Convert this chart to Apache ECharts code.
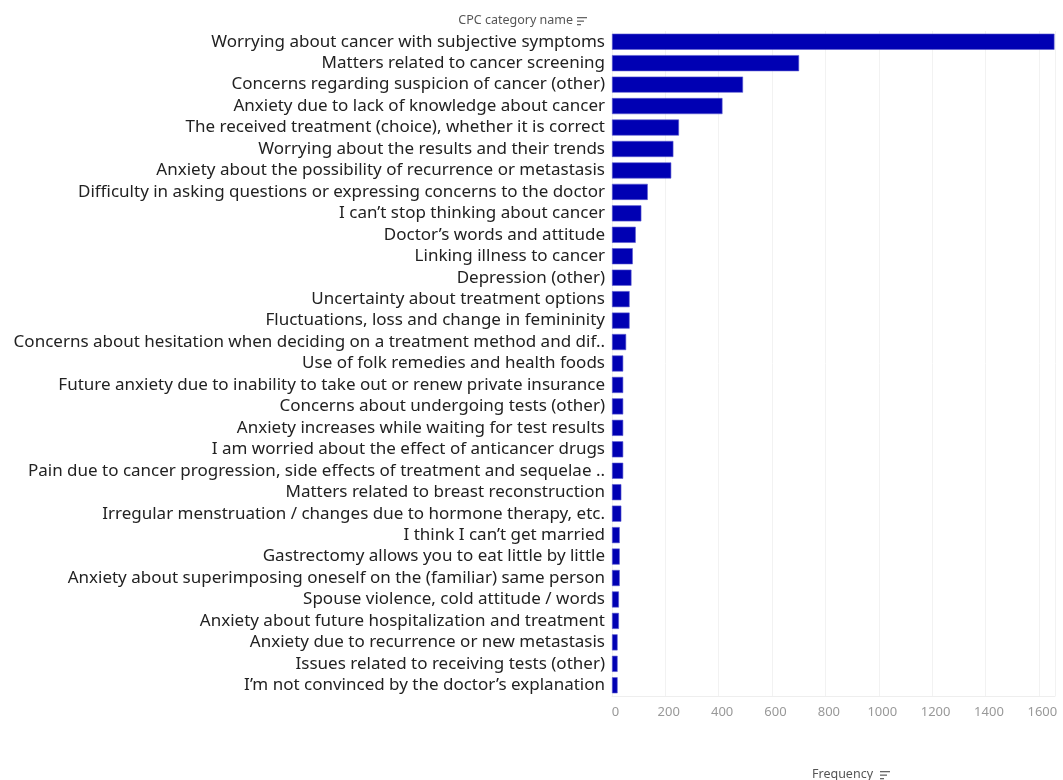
<!DOCTYPE html>
<html>
<head>
<meta charset="utf-8">
<script src="https://cdn.jsdelivr.net/npm/echarts@6/dist/echarts.min.js"></script>
<style>
  html, body { margin: 0; padding: 0; background: #fff; }
  #main { width: 1063px; height: 780px; }
</style>
</head>
<body>
<div id="main"></div>
<script>
// categories, top to bottom
var categories = [
  'Worrying about cancer with subjective symptoms',
  'Matters related to cancer screening',
  'Concerns regarding suspicion of cancer (other)',
  'Anxiety due to lack of knowledge about cancer',
  'The received treatment (choice), whether it is correct',
  'Worrying about the results and their trends',
  'Anxiety about the possibility of recurrence or metastasis',
  'Difficulty in asking questions or expressing concerns to the doctor',
  'I can\u2019t stop thinking about cancer',
  'Doctor\u2019s words and attitude',
  'Linking illness to cancer',
  'Depression (other)',
  'Uncertainty about treatment options',
  'Fluctuations, loss and change in femininity',
  'Concerns about hesitation when deciding on a treatment method and dif..',
  'Use of folk remedies and health foods',
  'Future anxiety due to inability to take out or renew private insurance',
  'Concerns about undergoing tests (other)',
  'Anxiety increases while waiting for test results',
  'I am worried about the effect of anticancer drugs',
  'Pain due to cancer progression, side effects of treatment and sequelae ..',
  'Matters related to breast reconstruction',
  'Irregular menstruation / changes due to hormone therapy, etc.',
  'I think I can\u2019t get married',
  'Gastrectomy allows you to eat little by little',
  'Anxiety about superimposing oneself on the (familiar) same person',
  'Spouse violence, cold attitude / words',
  'Anxiety about future hospitalization and treatment',
  'Anxiety due to recurrence or new metastasis',
  'Issues related to receiving tests (other)',
  'I\u2019m not convinced by the doctor\u2019s explanation'
];

var frequency = [
  1658, 701, 491, 414, 251, 230, 222, 134, 110, 89, 78, 73, 66, 66, 53, 42,
  42, 42, 42, 42, 42, 35, 35, 29, 29, 29, 26, 26, 21, 21, 21
];

var xTicks = [0, 200, 400, 600, 800, 1000, 1200, 1400, 1600];

var chartDom = document.getElementById('main');
var myChart = echarts.init(chartDom);

// small sort icon (three lines getting shorter)
function sortIcon(x, y) {
  return {
    type: 'group',
    x: x,
    y: y,
    children: [
      { type: 'rect', shape: { x: 0, y: 0, width: 10, height: 1.3 }, style: { fill: '#666' } },
      { type: 'rect', shape: { x: 0, y: 3.5, width: 7, height: 1.3 }, style: { fill: '#666' } },
      { type: 'rect', shape: { x: 0, y: 7, width: 4, height: 1.3 }, style: { fill: '#666' } }
    ]
  };
}

var option = {
  animation: false,
  textStyle: { fontFamily: 'Noto Sans' },
  grid: {
    left: 612,
    right: 8,
    top: 31,
    bottom: 84,
    containLabel: false
  },
  xAxis: {
    type: 'value',
    min: 0,
    max: 1660,
    interval: 200,
    axisLine: { show: true, lineStyle: { color: '#eeeeee' } },
    axisTick: { show: false },
    axisLabel: {
      color: '#999',
      fontSize: 13,
      margin: 10,
      showMaxLabel: false,
      formatter: function (v) { return xTicks.indexOf(v) >= 0 ? '  ' + v : ''; }
    },
    splitLine: { show: true, lineStyle: { color: '#f2f2f2' } }
  },
  yAxis: {
    type: 'category',
    inverse: true,
    data: categories,
    axisLine: { show: false },
    axisTick: { show: false },
    axisLabel: {
      interval: 0,
      hideOverlap: false,
      color: '#222',
      fontSize: 17,
      margin: 7
    }
  },
  series: [
    {
      name: 'Frequency',
      type: 'bar',
      data: frequency,
      barCategoryGap: '25%',
      itemStyle: {
        color: '#0000b3',
        borderColor: '#5a5ad0',
        borderWidth: 0.6
      }
    }
  ],
  graphic: [
    {
      type: 'text',
      right: 1063 - 573,
      top: 14,
      style: { text: 'CPC category name', fill: '#555', fontSize: 12.5, fontFamily: 'Noto Sans' }
    },
    sortIcon(577, 17),
    {
      type: 'text',
      left: 812,
      top: 768,
      style: { text: 'Frequency', fill: '#555', fontSize: 12.5, fontFamily: 'Noto Sans' }
    },
    sortIcon(880, 771)
  ]
};

option && myChart.setOption(option);
</script>
</body>
</html>
